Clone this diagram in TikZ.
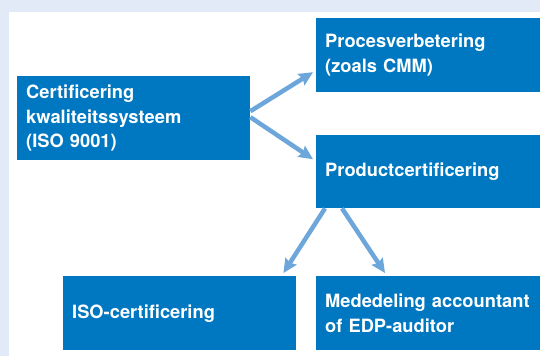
\documentclass[tikz,border=0pt]{standalone}
\usepackage{fontspec}
\setmainfont{TeX Gyre Heros}
\usetikzlibrary{calc,arrows.meta}
\definecolor{panelbg}{HTML}{E1EAF6}
\definecolor{boxblue}{HTML}{0078C1}
\definecolor{arrowblue}{HTML}{6CA6DA}
\tikzset{
  box/.style={rectangle, fill=boxblue, text=white, anchor=north west,
    inner xsep=9pt, inner ysep=0pt, align=left,
    font=\fontsize{18.3}{24.5}\selectfont\bfseries},
  link/.style={draw=arrowblue, line width=4.5pt,
    -{Stealth[length=14pt,width=13pt,inset=2pt]}}
}
\begin{document}
\begin{tikzpicture}[x=1pt,y=-1pt]
  % frame
  \fill[panelbg] (0,0) rectangle (540,356);
  \fill[white] (8.5,11.5) rectangle (540,356);
  \useasboundingbox (0,0) rectangle (540,356);
  % boxes
  \node[box, minimum width=233pt, minimum height=84pt, text width=215pt] (A) at (17,76)
    {Certificering\\kwaliteitssysteem\\(ISO 9001)};
  \node[box, minimum width=224pt, minimum height=74pt, text width=206pt] (B) at (316,18)
    {Procesverbetering\\(zoals CMM)};
  \node[box, minimum width=224pt, minimum height=73pt, text width=206pt] (C) at (316,135)
    {Productcertificering};
  \node[box, minimum width=233pt, minimum height=74pt, text width=215pt] (D) at (63,276)
    {ISO-certificering};
  \node[box, minimum width=224pt, minimum height=74pt, text width=206pt] (E) at (316,276)
    {Mededeling accountant\\of EDP-auditor};
  % connectors
  \draw[link] ($(A.east)+(0,-7)$) -- ($(B.west)+(-3,17)$);
  \draw[link] ($(A.east)+(0,-1)$) -- ($(C.west)+(-3,-12.5)$);
  \draw[link] ($(C.south west)+(9,0)$) -- ($(D.north east)+(-13,-3)$);
  \draw[link] ($(C.south west)+(26,0)$) -- ($(E.north west)+(69,-3)$);
\end{tikzpicture}
\end{document}
